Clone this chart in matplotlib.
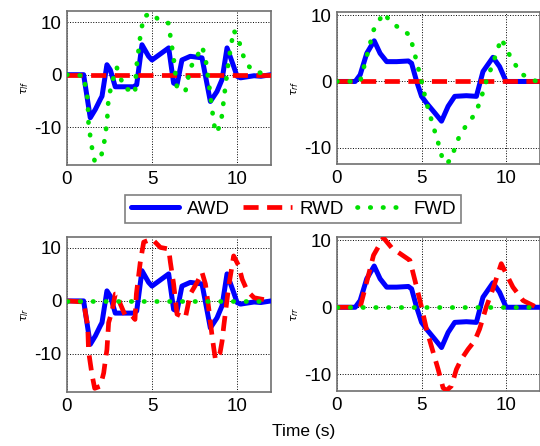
import numpy as np
import matplotlib.pyplot as plt

plt.rcParams['font.family'] = ['Liberation Sans', 'DejaVu Sans']
plt.rcParams['axes.unicode_minus'] = False

# left wheels (lf / lr): time and torque
t_left_awd = [0, 0.98, 1.37, 1.67, 1.96, 2.06, 2.35, 2.55, 2.84, 3.24, 3.92, 4.1, 4.41,
              4.8, 5.0, 5.98, 6.27, 6.47, 6.76, 7.25, 7.94, 8.43, 8.82, 9.12, 9.41,
              9.8, 10.0, 10.2, 11.0, 11.4, 12.0]
left_awd = [0, 0, -8.2, -6.6, -4.7, -4.1, 1.9, 0.9, -2.3, -2.3, -2.3, -1.9, 5.7,
            3.5, 2.8, 5.1, -1.6, -1.9, 2.8, 3.5, 3.2, -5.1, -3.2, -0.9, 5.1,
            1.6, -0.3, -0.6, -0.2, -0.3, 0]

t_left_one = [0, 1.0, 1.08, 1.22, 1.27, 1.37, 1.47, 1.63, 1.96, 2.16, 2.25, 2.35, 2.45,
              2.65, 2.84, 2.94, 3.14, 3.43, 3.82, 4.0, 4.08, 4.31, 4.51, 5.0, 5.49,
              5.98, 6.08, 6.27, 6.47, 6.96, 7.25, 7.65, 7.94, 8.14, 8.33, 8.53, 8.63,
              8.73, 9.0, 9.12, 9.22, 9.51, 9.8, 10.1, 10.3, 10.6, 11.0, 12.0]
left_one = [0, -0.2, -2.2, -4.7, -9.5, -11.7, -13.9, -16.5, -16.1, -13.6, -11.4, -9.2, -4.1,
            -1.9, 1.3, 1.3, -0.6, -2.8, -2.8, -3.5, 1.3, 7.3, 11.1, 11.7, 10.1,
            9.8, 7.3, 3.2, -2.5, -3.2, 1.3, 3.5, 5.4, 3.2, -1.3, -6.6, -8.9,
            -11.1, -9.8, -7.6, -4.7, 2.8, 8.5, 6.6, 4.1, 1.9, 0.6, 0]

# right wheels (rf / rr)
t_right_awd = [0, 1.08, 1.37, 1.76, 2.2, 2.55, 2.94, 3.53, 4.22, 4.41, 4.71, 5.0, 5.29,
               5.78, 6.18, 6.57, 6.96, 7.65, 8.24, 8.63, 9.22, 9.61, 10.0, 11.1, 12.0]
right_awd = [0, 0, 1.0, 4.25, 6.15, 4.25, 3.0, 3.0, 3.1, 2.75, 0, -2.25, -3.25,
             -4.75, -6.0, -3.75, -2.25, -2.15, -2.25, 1.5, 3.65, 2.25, 0, 0, 0]

t_right_one = [0, 1.37, 1.96, 2.16, 2.75, 3.24, 3.73, 4.31, 4.71, 5.0, 5.29, 5.69, 5.98,
               6.27, 6.47, 6.76, 7.06, 7.35, 7.75, 8.14, 8.43, 8.82, 9.22, 9.71, 10.1,
               10.4, 11.0, 11.8, 12.0]
right_one = [0, 0, 5.75, 7.75, 10.35, 8.85, 8.0, 7.0, 3.0, 0, -3.25, -6.75, -9.25,
             -12.0, -12.4, -11.75, -9.25, -7.75, -6.25, -5.0, -3.25, 0, 2.75, 6.5, 4.5,
             3.0, 1.0, 0, 0]

labels = ['AWD', 'RWD', 'FWD']

fig = plt.figure(figsize=(5.4, 4.46), dpi=100)
ax_lf = fig.add_axes([0.124, 0.630, 0.378, 0.345])
ax_rf = fig.add_axes([0.624, 0.632, 0.376, 0.341])
ax_lr = fig.add_axes([0.124, 0.121, 0.378, 0.348])
ax_rr = fig.add_axes([0.624, 0.123, 0.376, 0.346])

blue = dict(color='#0000ff', lw=3.6, solid_capstyle='round', solid_joinstyle='round')
red = dict(color='#ff0000', lw=3.4, dashes=(3.2, 1.8))
green = dict(color='#00e000', lw=3.4, dashes=(0.1, 2.6), dash_capstyle='round')


def draw(ax, t_awd, awd, t_one, one, front, ylabel, ylim):
    ax.plot(t_awd, awd, label=labels[0], zorder=3, **blue)
    if front:
        ax.plot([0, 12], [0, 0], label=labels[1], zorder=4, **red)
        ax.plot(t_one, one, label=labels[2], zorder=5, **green)
    else:
        ax.plot(t_one, one, label=labels[1], zorder=4, **red)
        ax.plot([0, 12], [0, 0], label=labels[2], zorder=5, **green)
    ax.set_xlim(0, 12)
    ax.set_ylim(*ylim)
    ax.set_xticks([0, 5, 10])
    ax.set_yticks([-10, 0, 10])
    ax.grid(True, color='black', ls=':', lw=0.7)
    ax.tick_params(labelsize=13.5, length=0, pad=4)
    ax.set_ylabel(ylabel, fontsize=8, labelpad=2)
    for sp in ax.spines.values():
        sp.set_color('#707070')
        sp.set_linewidth(1.2)


draw(ax_lf, t_left_awd, left_awd, t_left_one, left_one, True, r'$\tau_{lf}$', (-17.2, 12.1))
draw(ax_rf, t_right_awd, right_awd, t_right_one, right_one, True, r'$\tau_{rf}$', (-12.5, 10.5))
draw(ax_lr, t_left_awd, left_awd, t_left_one, left_one, False, r'$\tau_{lr}$', (-17.2, 12.1))
draw(ax_rr, t_right_awd, right_awd, t_right_one, right_one, False, r'$\tau_{rr}$', (-12.5, 10.5))

h, l = ax_lf.get_legend_handles_labels()
leg = fig.legend(h, l, loc='center', bbox_to_anchor=(0.543, 0.531), ncol=3, fontsize=13.5,
                 frameon=True, fancybox=False, edgecolor='#606060', handlelength=2.6,
                 handletextpad=0.4, columnspacing=0.7, borderpad=0.3)
leg.get_frame().set_linewidth(1.2)

fig.text(0.563, 0.032, 'Time (s)', ha='center', va='center', fontsize=12.5)

fig.savefig('out.png', dpi=100)
